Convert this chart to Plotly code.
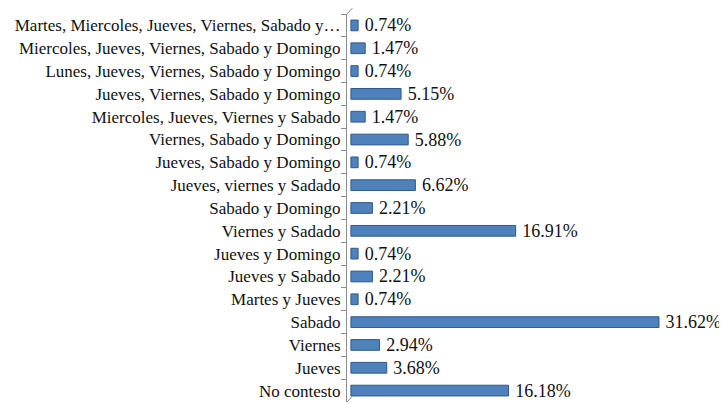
import plotly.graph_objects as go

# ---------------------------------------------------------------------------
# Data (top to bottom as shown)
# ---------------------------------------------------------------------------

CATEGORIES = [
    "Martes, Miercoles, Jueves, Viernes, Sabado y…",
    "Miercoles, Jueves, Viernes, Sabado y Domingo",
    "Lunes, Jueves, Viernes, Sabado y Domingo",
    "Jueves, Viernes, Sabado y Domingo",
    "Miercoles, Jueves, Viernes y Sabado",
    "Viernes, Sabado y Domingo",
    "Jueves, Sabado y Domingo",
    "Jueves, viernes y Sadado",
    "Sabado y Domingo",
    "Viernes y Sadado",
    "Jueves y Domingo",
    "Jueves y Sabado",
    "Martes y Jueves",
    "Sabado",
    "Viernes",
    "Jueves",
    "No contesto",
]
PERCENTS = [0.74, 1.47, 0.74, 5.15, 1.47, 5.88, 0.74, 6.62, 2.21,
            16.91, 0.74, 2.21, 0.74, 31.62, 2.94, 3.68, 16.18]

BAR_COLOR = "#4F81BD"
BAR_EDGE = "#2F5A8C"
AXIS_COLOR = "#8C8C8C"
FONT = "Liberation Serif"

fig = go.Figure(go.Bar(
    x=PERCENTS,
    y=CATEGORIES,
    orientation="h",
    width=0.47,
    marker=dict(color=BAR_COLOR, line=dict(color=BAR_EDGE, width=1)),
    text=[f"\u2009{v:.2f}%" for v in PERCENTS],
    textposition="outside",
    textfont=dict(family=FONT, size=18, color="#111111"),
    cliponaxis=False,
    constraintext="none",
))

# page body adds an 8px margin, so the figure is 8px smaller and shifted
fig.update_layout(
    width=719,
    height=395,
    paper_bgcolor="white",
    plot_bgcolor="white",
    font=dict(family=FONT, color="#111111"),
    margin=dict(l=339, r=0, t=6, b=1, autoexpand=False),
    showlegend=False,
    xaxis=dict(
        range=[-0.4, 38.6],
        visible=False,
    ),
    yaxis=dict(
        autorange="reversed",
        automargin=False,
        showline=True,
        linecolor=AXIS_COLOR,
        linewidth=1,
        ticks="outside",
        ticklen=5,
        tickcolor=AXIS_COLOR,
        tickson="boundaries",
        ticklabelstandoff=2,
        tickfont=dict(family=FONT, size=17, color="#111111"),
        showgrid=False,
    ),
)

# small slanted ends of the 3D axis wall
fig.add_shape(type="line", xref="paper", yref="paper", x0=0, y0=1, x1=0.014, y1=1.015,
              line=dict(color=AXIS_COLOR, width=1))
fig.add_shape(type="line", xref="paper", yref="paper", x0=0, y0=0, x1=0.014, y1=0.015,
              line=dict(color=AXIS_COLOR, width=1))

fig.write_html("out.html")
